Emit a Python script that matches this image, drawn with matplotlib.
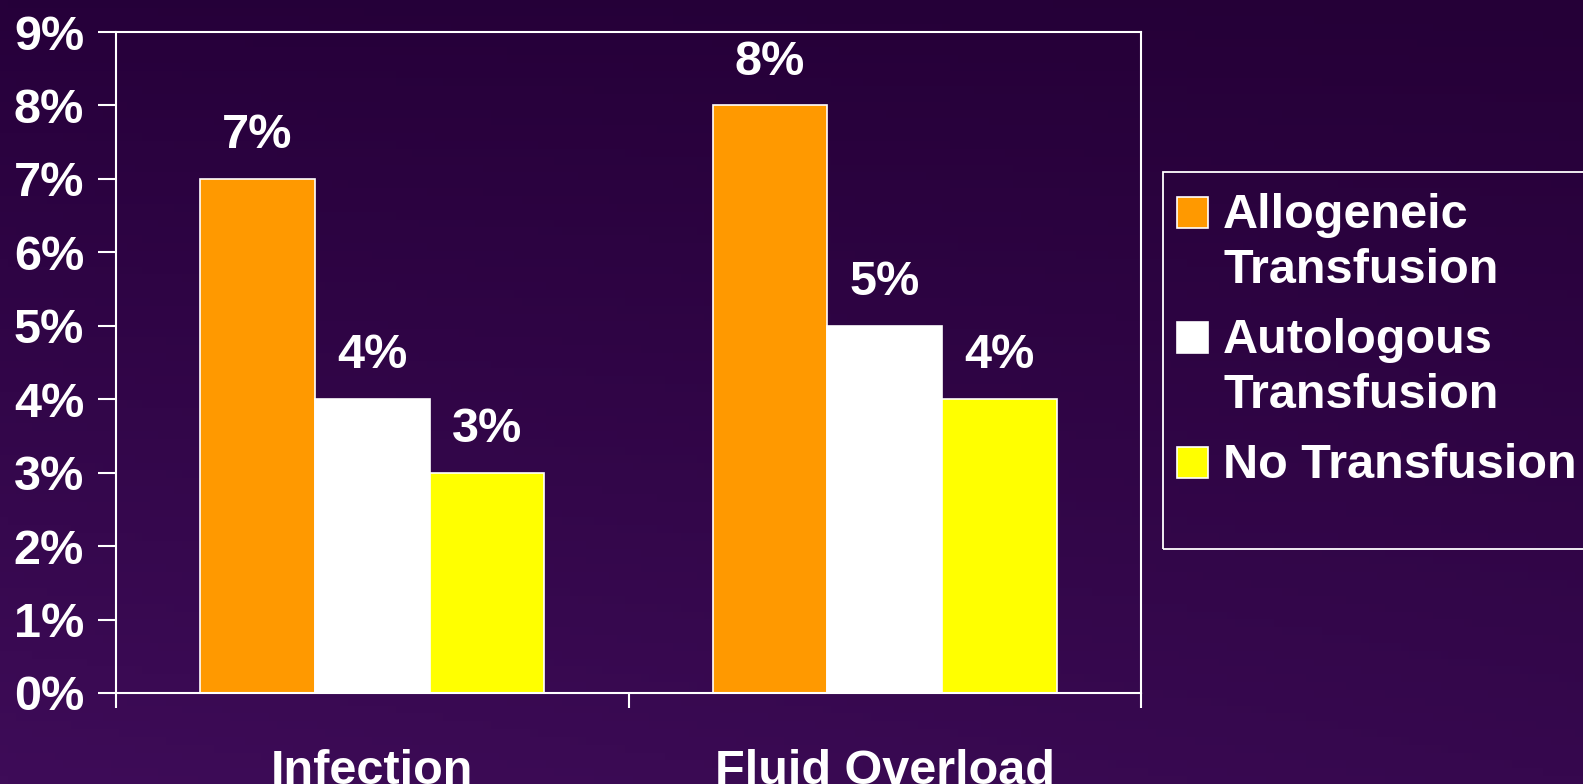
import matplotlib
matplotlib.use("Agg")
import matplotlib.pyplot as plt
from matplotlib.patches import Rectangle
import numpy as np

# data
categories = ["Infection", "Fluid Overload"]
series = ["Allogeneic\nTransfusion", "Autologous\nTransfusion", "No Transfusion"]
values = [[7, 8], [4, 5], [3, 4]]
colors = ["#FF9900", "#FFFFFF", "#FFFF00"]
yticks = list(range(0, 10))

W, H = 1583, 784
plt.rcParams['font.family'] = ['Liberation Sans', 'DejaVu Sans']
plt.rcParams['font.weight'] = 'bold'
FS = 35

fig = plt.figure(figsize=(W / 100, H / 100), dpi=100)

# background gradient (bilinear between corner colours)
bg = fig.add_axes([0, 0, 1, 1])
tl = np.array([0x26, 0x00, 0x3a]) / 255
tr = np.array([0x25, 0x00, 0x37]) / 255
bl = np.array([0x3e, 0x0c, 0x58]) / 255
br = np.array([0x36, 0x08, 0x4e]) / 255
u = np.linspace(0, 1, 200)[None, :, None]
v = np.linspace(0, 1, 100)[:, None, None]
img = (1 - v) * ((1 - u) * tl + u * tr) + v * ((1 - u) * bl + u * br)
bg.imshow(img, aspect='auto', extent=[0, 1, 0, 1], origin='upper')
bg.axis('off')

def fx(px):
    return px / W

def fy(py):
    return 1 - py / H

ax = fig.add_axes([fx(116), fy(693), fx(1141) - fx(116), fy(32) - fy(693)])
ax.patch.set_alpha(0)

x = np.arange(len(categories)) + 0.5
width = 0.224
for i, (name, vals, c) in enumerate(zip(series, values, colors)):
    bars = ax.bar(x + (i - 1) * width, vals, width, color=c,
                  edgecolor='white', linewidth=1.2, label=name)
    ax.bar_label(bars, labels=[f"{v}%" for v in vals], padding=15,
                 color='white', fontsize=FS, fontweight='bold')

ax.set_xlim(0, 2)
ax.set_ylim(0, 9)
ax.set_yticks(yticks)
ax.set_yticklabels([f"{t}%" for t in yticks])
ax.set_xticks([0, 1, 2])
ax.set_xticklabels([])
ax.set_xticks(x, minor=True)
ax.set_xticklabels(categories, minor=True)
ax.tick_params(axis='x', which='minor', length=0, pad=40, labelsize=FS, labelcolor='white')
ax.tick_params(axis='x', which='major', length=11, width=1.5, color='white', direction='out')
ax.tick_params(axis='y', length=13, width=1.5, color='white', pad=10,
               labelsize=FS, labelcolor='white')
for s in ax.spines.values():
    s.set_color('white')
    s.set_linewidth(1.5)

# legend box drawn manually
fig.patches.append(Rectangle((fx(1163), fy(549)), fx(1700) - fx(1163), fy(172) - fy(549),
                             transform=fig.transFigure, facecolor='none',
                             edgecolor='white', linewidth=1.3))
base = [228, 353, 478]
for name, c, b in zip(series, colors, base):
    fig.patches.append(Rectangle((fx(1177), fy(b)), fx(31), fx(31) * W / H,
                                 transform=fig.transFigure, facecolor=c,
                                 edgecolor='white', linewidth=1.2))
    for k, line in enumerate(name.split("\n")):
        fig.text(fx(1223), fy(b + 55 * k), line, color='white', fontsize=FS,
                 fontweight='bold', va='baseline', ha='left')

fig.savefig("out.png", dpi=100)
